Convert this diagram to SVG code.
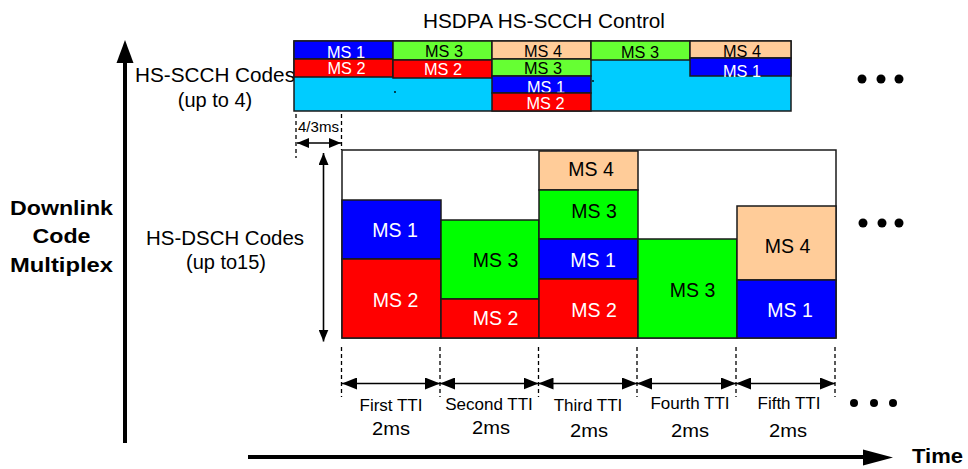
<svg xmlns="http://www.w3.org/2000/svg" width="968" height="469" viewBox="0 0 968 469">
  <defs>
    <style>
      .bg { fill: #ffffff; }
      .cell { stroke: #1a1a1a; stroke-width: 1.5; }
      .blue { fill: #0000ff; }
      .red { fill: #ff0000; }
      .lgreen { fill: #66ff33; }
      .green { fill: #00ff00; }
      .peach { fill: #ffcc99; }
      .cyan { fill: #00ccff; }
      text { font-family: "Liberation Sans", Arial, sans-serif; }
      .w { fill: #ffffff; }
      .k { fill: #000000; }
      .sc { font-size: 16.3px; text-anchor: middle; }
      .ds { font-size: 19.5px; text-anchor: middle; }
      .lbl { font-size: 20px; fill: #000000; }
      .bold { font-size: 21px; font-weight: bold; fill: #000000; }
      .tti { font-size: 17px; text-anchor: middle; fill: #000000; }
      .ms { font-size: 19px; text-anchor: middle; fill: #000000; }
      .dash { stroke: #000000; stroke-width: 1.3; stroke-dasharray: 4 3; fill: none; }
      .dim { stroke: #000000; stroke-width: 1.6; fill: none; }
      .axis { stroke: #000000; stroke-width: 4; fill: none; }
      .dot { fill: #000000; }
    </style>
    <marker id="tip" viewBox="0 0 15 12" markerWidth="15" markerHeight="12" markerUnits="userSpaceOnUse" refX="15" refY="6" orient="auto-start-reverse">
      <path d="M0,0 L15,6 L0,12 z" fill="#000000"/>
    </marker>
    <marker id="tipS" viewBox="0 0 12 10" markerWidth="12" markerHeight="10" markerUnits="userSpaceOnUse" refX="12" refY="5" orient="auto-start-reverse">
      <path d="M0,0 L12,5 L0,10 z" fill="#000000"/>
    </marker>
  </defs>

  <rect class="bg" x="0" y="0" width="968" height="469"/>

  <!-- Title -->
  <text class="lbl" x="423" y="28" textLength="242" lengthAdjust="spacingAndGlyphs">HSDPA HS-SCCH Control</text>

  <!-- Axis and row labels -->
  <g id="labels">
    <text class="lbl" x="135" y="82" textLength="160" lengthAdjust="spacingAndGlyphs">HS-SCCH Codes</text>
    <text class="lbl" x="215" y="107" text-anchor="middle">(up to 4)</text>
    <text class="lbl" x="146" y="245" textLength="158" lengthAdjust="spacingAndGlyphs">HS-DSCH Codes</text>
    <text class="lbl" x="226" y="269" text-anchor="middle">(up to15)</text>
    <text class="bold" x="61.5" y="215" text-anchor="middle" textLength="103" lengthAdjust="spacingAndGlyphs">Downlink</text>
    <text class="bold" x="61.5" y="243" text-anchor="middle" textLength="58" lengthAdjust="spacingAndGlyphs">Code</text>
    <text class="bold" x="61.5" y="272" text-anchor="middle" textLength="103" lengthAdjust="spacingAndGlyphs">Multiplex</text>
    <text class="bold" x="912" y="463" textLength="51" lengthAdjust="spacingAndGlyphs">Time</text>
  </g>

  <!-- HS-SCCH control channel panel -->
  <g id="scch-panel">
    <rect class="cell cyan" x="294" y="41" width="497" height="70"/>
    <circle cx="395" cy="92" r="0.9" fill="#000"/>
    <circle cx="593" cy="81" r="0.9" fill="#000"/>
  </g>
  <g id="scch-1-ms1"><rect class="cell blue" x="294" y="41" width="99" height="18"/><text class="sc w" x="346" y="57.5">MS 1</text></g>
  <g id="scch-1-ms2"><rect class="cell red" x="294" y="59" width="99" height="18"/><text class="sc w" x="346.5" y="74">MS 2</text></g>
  <g id="scch-2-ms3"><rect class="cell lgreen" x="393" y="41" width="99" height="19"/><text class="sc k" x="444" y="56.5">MS 3</text></g>
  <g id="scch-2-ms2"><rect class="cell red" x="393" y="60" width="99" height="18"/><text class="sc w" x="443" y="75">MS 2</text></g>
  <g id="scch-3-ms4"><rect class="cell peach" x="492" y="41" width="99" height="18"/><text class="sc k" x="543" y="56.5">MS 4</text></g>
  <g id="scch-3-ms3"><rect class="cell lgreen" x="492" y="59" width="99" height="17"/><text class="sc k" x="543" y="73.5">MS 3</text></g>
  <g id="scch-3-ms1"><rect class="cell blue" x="492" y="76" width="99" height="17"/><text class="sc w" x="546" y="92.5">MS 1</text></g>
  <g id="scch-3-ms2"><rect class="cell red" x="492" y="93" width="99" height="18"/><text class="sc w" x="545.5" y="109">MS 2</text></g>
  <g id="scch-4-ms3"><rect class="cell lgreen" x="591" y="41" width="99" height="19"/><text class="sc k" x="640" y="58">MS 3</text></g>
  <g id="scch-5-ms4"><rect class="cell peach" x="690" y="41" width="101" height="17"/><text class="sc k" x="742" y="56.5">MS 4</text></g>
  <g id="scch-5-ms1"><rect class="cell blue" x="690" y="58" width="101" height="18"/><text class="sc w" x="742" y="76.5">MS 1</text></g>

  <!-- HS-DSCH data channel panel -->
  <g id="dsch-panel">
    <rect class="cell bg" x="342" y="150" width="494" height="188"/>
  </g>
  <g id="dsch-1-ms1"><rect class="cell blue" x="342" y="200" width="99" height="59"/><text class="ds w" x="395" y="236.5">MS 1</text></g>
  <g id="dsch-1-ms2"><rect class="cell red" x="342" y="259" width="99" height="79"/><text class="ds w" x="395.5" y="306.5">MS 2</text></g>
  <g id="dsch-2-ms3"><rect class="cell green" x="441" y="220" width="98" height="79"/><text class="ds k" x="495.5" y="266.5">MS 3</text></g>
  <g id="dsch-2-ms2"><rect class="cell red" x="441" y="299" width="98" height="39"/><text class="ds w" x="495.5" y="325">MS 2</text></g>
  <g id="dsch-3-ms4"><rect class="cell peach" x="539" y="151" width="99" height="39"/><text class="ds k" x="591" y="176">MS 4</text></g>
  <g id="dsch-3-ms3"><rect class="cell green" x="539" y="190" width="99" height="49"/><text class="ds k" x="594" y="217.5">MS 3</text></g>
  <g id="dsch-3-ms1"><rect class="cell blue" x="539" y="239" width="99" height="40"/><text class="ds w" x="593" y="266.5">MS 1</text></g>
  <g id="dsch-3-ms2"><rect class="cell red" x="539" y="279" width="99" height="59"/><text class="ds w" x="594" y="316.5">MS 2</text></g>
  <g id="dsch-4-ms3"><rect class="cell green" x="638" y="239" width="99" height="99"/><text class="ds k" x="692.5" y="296.5">MS 3</text></g>
  <g id="dsch-5-ms4"><rect class="cell peach" x="737" y="206" width="99" height="74"/><text class="ds k" x="787.5" y="252.5">MS 4</text></g>
  <g id="dsch-5-ms1"><rect class="cell blue" x="737" y="280" width="99" height="58"/><text class="ds w" x="790" y="316.5">MS 1</text></g>

  <!-- Continuation dots -->
  <g id="ellipsis">
    <circle class="dot" cx="862" cy="79" r="4.5"/>
    <circle class="dot" cx="881" cy="79" r="4.5"/>
    <circle class="dot" cx="899" cy="79" r="4.5"/>
    <circle class="dot" cx="863" cy="223" r="4.5"/>
    <circle class="dot" cx="882" cy="223" r="4.5"/>
    <circle class="dot" cx="899" cy="223" r="4.5"/>
    <circle class="dot" cx="854" cy="403" r="4"/>
    <circle class="dot" cx="874" cy="403" r="4"/>
    <circle class="dot" cx="893" cy="403" r="4"/>
  </g>

  <!-- Axes, dimension lines and TTI markers -->
  <g id="connectors">
    <!-- code axis -->
    <line class="axis" x1="125" y1="443" x2="125" y2="60"/>
    <polygon points="116.5,63 125,40 133.5,63" fill="#000"/>
    <!-- time axis -->
    <line class="axis" x1="248" y1="457" x2="866" y2="457"/>
    <polygon points="863,449.5 893,457.5 863,465.5" fill="#000"/>

    <!-- 4/3 ms offset -->
    <line class="dash" x1="296" y1="114" x2="296" y2="158"/>
    <line class="dash" x1="341.5" y1="114" x2="341.5" y2="150"/>
    <line class="dim" x1="297" y1="143" x2="341" y2="143" marker-start="url(#tipS)" marker-end="url(#tipS)"/>

    <!-- HS-DSCH code range -->
    <line class="dim" x1="323.5" y1="153" x2="323.5" y2="341.5" marker-start="url(#tipS)" marker-end="url(#tipS)"/>

    <!-- TTI boundaries -->
    <line class="dash" x1="341.5" y1="347" x2="341.5" y2="397"/>
    <line class="dash" x1="440" y1="347" x2="440" y2="397"/>
    <line class="dash" x1="538.5" y1="347" x2="538.5" y2="397"/>
    <line class="dash" x1="637" y1="347" x2="637" y2="397"/>
    <line class="dash" x1="736" y1="347" x2="736" y2="397"/>
    <line class="dash" x1="835" y1="347" x2="835" y2="397"/>

    <line class="dim" x1="342" y1="383.5" x2="440" y2="383.5" marker-start="url(#tip)" marker-end="url(#tip)"/>
    <line class="dim" x1="440" y1="383.5" x2="538.5" y2="383.5" marker-start="url(#tip)" marker-end="url(#tip)"/>
    <line class="dim" x1="538.5" y1="383.5" x2="637" y2="383.5" marker-start="url(#tip)" marker-end="url(#tip)"/>
    <line class="dim" x1="637" y1="383.5" x2="736" y2="383.5" marker-start="url(#tip)" marker-end="url(#tip)"/>
    <line class="dim" x1="736" y1="383.5" x2="835" y2="383.5" marker-start="url(#tip)" marker-end="url(#tip)"/>
  </g>

  <!-- Dimension and TTI texts -->
  <g id="tti-labels">
    <text x="318.5" y="131.5" font-size="14" text-anchor="middle" textLength="41" lengthAdjust="spacingAndGlyphs">4/3ms</text>
    <text class="tti" x="391" y="410.5">First TTI</text>
    <text class="ms" x="391" y="435" textLength="38" lengthAdjust="spacingAndGlyphs">2ms</text>
    <text class="tti" x="489" y="410">Second TTI</text>
    <text class="ms" x="491" y="434" textLength="38" lengthAdjust="spacingAndGlyphs">2ms</text>
    <text class="tti" x="588" y="410.5">Third TTI</text>
    <text class="ms" x="589" y="436.5" textLength="38" lengthAdjust="spacingAndGlyphs">2ms</text>
    <text class="tti" x="690" y="408.5">Fourth TTI</text>
    <text class="ms" x="690" y="436.5" textLength="38" lengthAdjust="spacingAndGlyphs">2ms</text>
    <text class="tti" x="789" y="408.5">Fifth TTI</text>
    <text class="ms" x="788" y="436.5" textLength="38" lengthAdjust="spacingAndGlyphs">2ms</text>
  </g>
</svg>
